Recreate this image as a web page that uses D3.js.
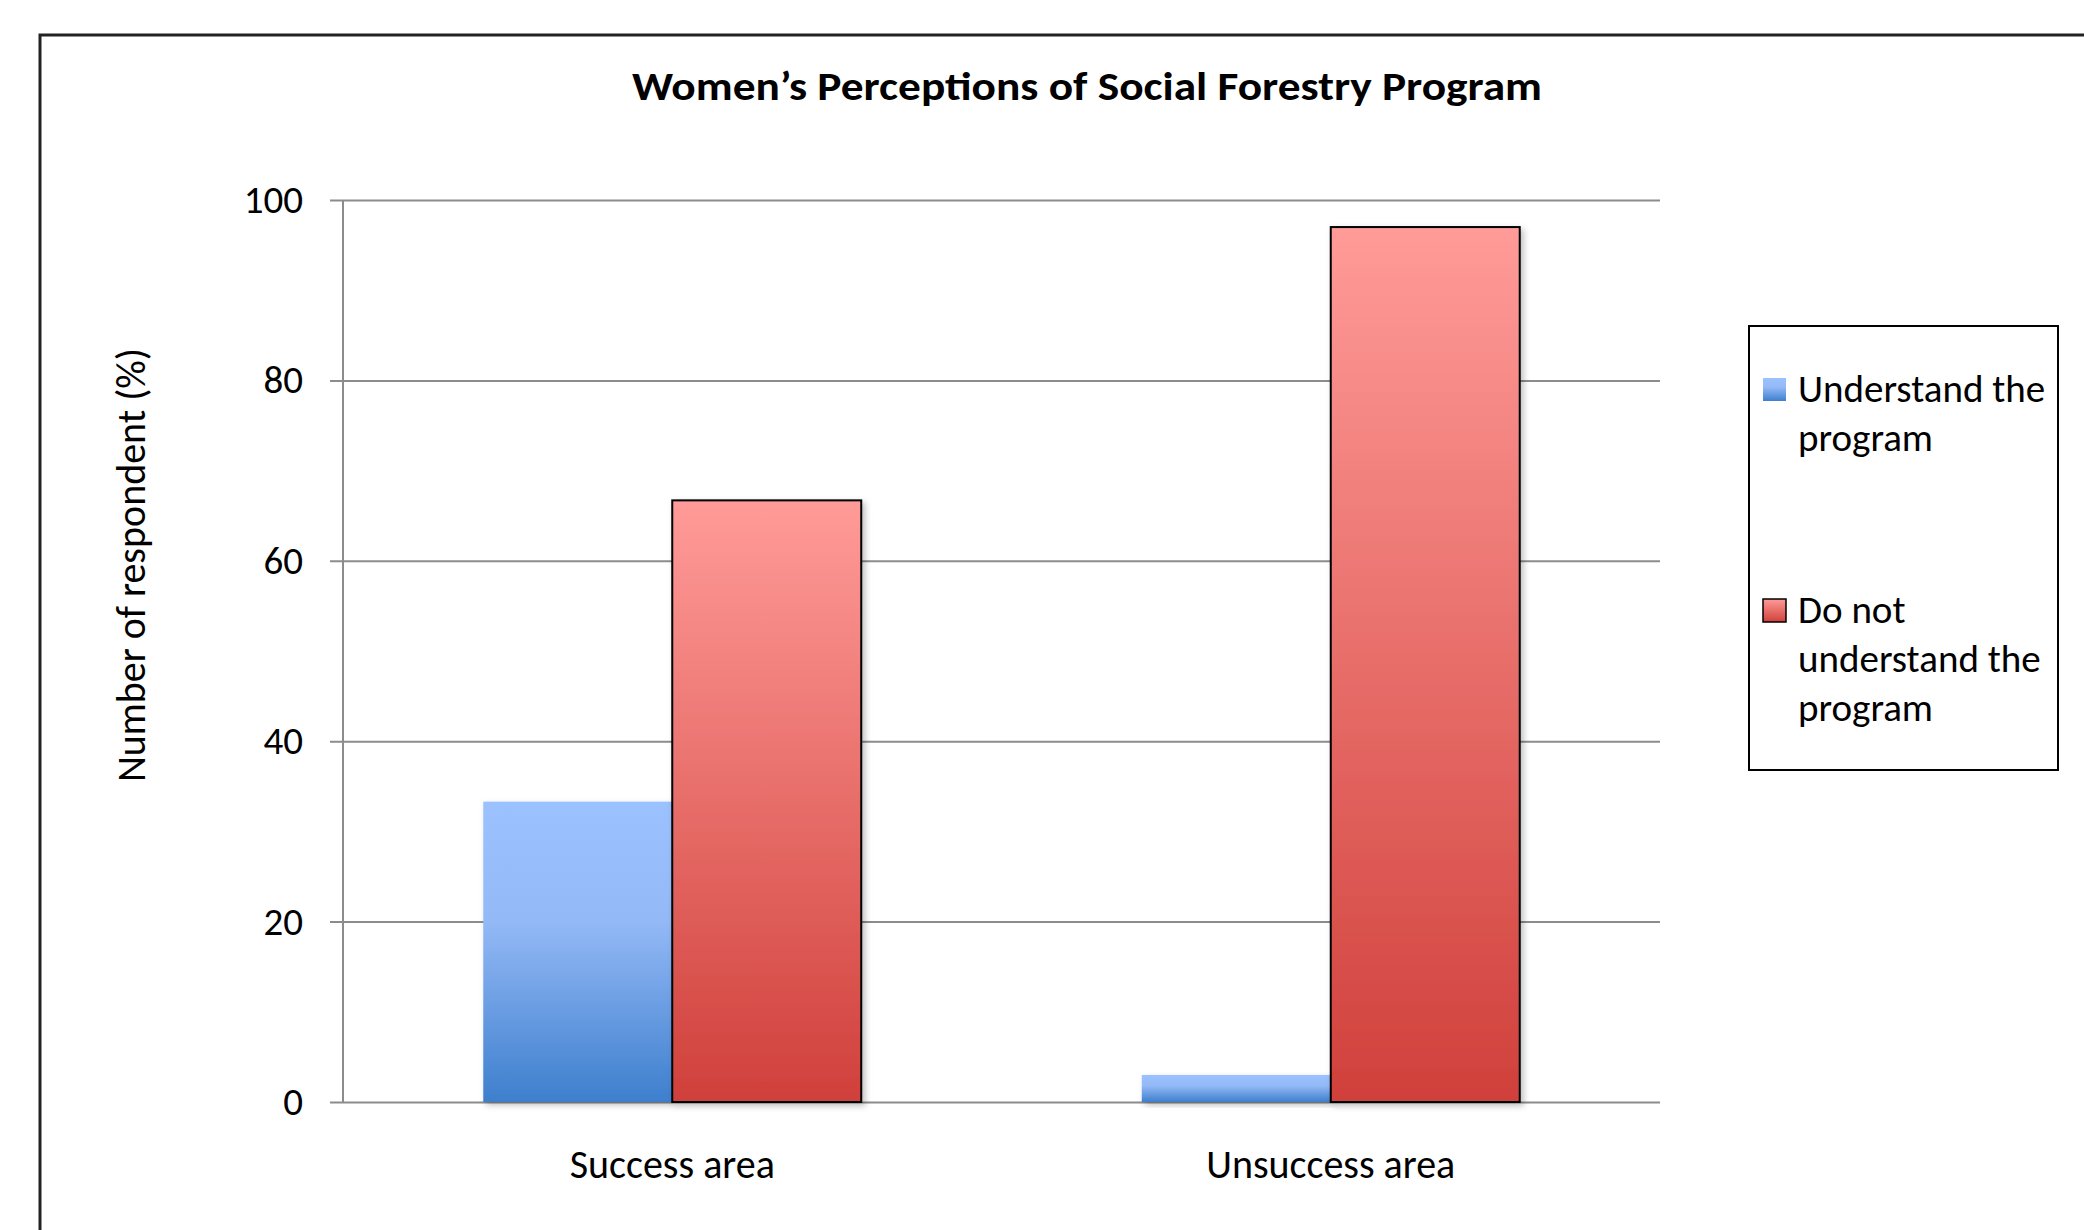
<!DOCTYPE html>
<html>
<head>
<meta charset="utf-8">
<script src="https://cdn.jsdelivr.net/npm/d3@7"></script>
<style>
  body { margin: 0; background: #fff; }
  text { font-family: Carlito, Lato, "Open Sans", sans-serif; fill: #000; }
</style>
</head>
<body>
<div id="chart"></div>
<script>
// data
var categories = ["Success area", "Unsuccess area"];
var series = ["Understand the program", "Do not understand the program"];
var understandValues = [33.3, 3];
var notUnderstandValues = [66.7, 97];
var yTicks = [0, 20, 40, 60, 80, 100];
var legendLines = [["Understand the", "program"], ["Do not", "understand the", "program"]];

var width = 2084, height = 1230;
var plot = {left: 343, right: 1660, top: 200, bottom: 1102};

var svg = d3.select("#chart")
    .append("svg")
    .attr("width", width)
    .attr("height", height);

svg.append("rect").attr("width", width).attr("height", height).attr("fill", "#fff");

// gradients + shadow
var defs = svg.append("defs");
var grads = [
    {id: "gradBlue", stops: [["0%", "#9cc1ff"], ["40%", "#93b9f6"], ["100%", "#3e7fcd"]]},
    {id: "gradRed", stops: [["0%", "#ff9b98"], ["100%", "#d0403b"]]}
];
grads.forEach(function (g) {
    var lg = defs.append("linearGradient").attr("id", g.id)
        .attr("x1", 0).attr("y1", 0).attr("x2", 0).attr("y2", 1);
    g.stops.forEach(function (s) {
        lg.append("stop").attr("offset", s[0]).attr("stop-color", s[1]);
    });
});
defs.append("filter").attr("id", "shadow")
    .attr("x", "-10%").attr("y", "-10%").attr("width", "130%").attr("height", "130%")
    .append("feDropShadow")
    .attr("dx", 3).attr("dy", 3).attr("stdDeviation", 3)
    .attr("flood-color", "#000").attr("flood-opacity", 0.25);

var colors = d3.scaleOrdinal().domain(series).range(["url(#gradBlue)", "url(#gradRed)"]);

// outer frame (cut off at right and bottom)
svg.append("path")
    .attr("d", "M40," + height + "V35H" + width)
    .attr("fill", "none")
    .attr("stroke", "#222")
    .attr("stroke-width", 3);

// title
svg.append("text")
    .attr("x", 1087)
    .attr("y", 100)
    .attr("text-anchor", "middle")
    .attr("textLength", 910)
    .attr("lengthAdjust", "spacingAndGlyphs")
    .style("font-size", "41px")
    .style("font-weight", "bold")
    .text("Women\u2019s Perceptions of Social Forestry Program");

// scales
var y = d3.scaleLinear().domain([0, 100]).range([plot.bottom, plot.top]);
var x0 = d3.scaleBand()
    .domain(categories)
    .range([plot.left, plot.right])
    .paddingInner(0.426)
    .paddingOuter(0.213);
var x1 = d3.scaleBand()
    .domain(series)
    .range([0, x0.bandwidth()]);

// gridlines + tick labels
var yAxis = svg.append("g")
    .attr("transform", "translate(330,0)")
    .call(d3.axisLeft(y).tickValues(yTicks).tickSize(-(plot.right - 330)).tickPadding(27));
yAxis.select(".domain").remove();
yAxis.selectAll(".tick line").attr("stroke", "#8c8c8c").attr("stroke-width", 2);
yAxis.selectAll(".tick text")
    .style("font-size", "39px")
    .attr("fill", "#000");

// vertical axis line
svg.append("line")
    .attr("x1", plot.left).attr("x2", plot.left)
    .attr("y1", plot.top).attr("y2", plot.bottom)
    .attr("stroke", "#8c8c8c")
    .attr("stroke-width", 2);

// y axis title
svg.append("text")
    .attr("transform", "translate(145,565) rotate(-90)")
    .attr("text-anchor", "middle")
    .style("font-size", "40px")
    .text("Number of respondent (%)");

// bars
var rows = categories.map(function (c, i) {
    return {cat: c, vals: [{s: series[0], v: understandValues[i]}, {s: series[1], v: notUnderstandValues[i]}]};
});

var groups = svg.append("g")
    .selectAll("g")
    .data(rows)
    .enter().append("g")
    .attr("transform", function (d) { return "translate(" + x0(d.cat) + ",0)"; });

groups.selectAll("rect")
    .data(function (d) { return d.vals; })
    .enter().append("rect")
    .attr("x", function (d) { return x1(d.s); })
    .attr("y", function (d) { return y(d.v); })
    .attr("width", x1.bandwidth())
    .attr("height", function (d) { return y(0) - y(d.v); })
    .attr("fill", function (d) { return colors(d.s); })
    .attr("stroke", function (d, i) { return i === 1 ? "#000" : "none"; })
    .attr("stroke-width", 2)
    .attr("filter", "url(#shadow)");

// category labels
svg.append("g")
    .selectAll("text")
    .data(categories)
    .enter().append("text")
    .attr("x", function (d) { return x0(d) + x0.bandwidth() / 2; })
    .attr("y", 1178)
    .attr("text-anchor", "middle")
    .style("font-size", "40px")
    .text(function (d) { return d; });

// legend
var legend = svg.append("g").attr("transform", "translate(1749,326)");
legend.append("rect")
    .attr("width", 309)
    .attr("height", 444)
    .attr("fill", "#fff")
    .attr("stroke", "#000")
    .attr("stroke-width", 2);

var legendY = [52, 273];
var items = legend.selectAll(".item")
    .data(series)
    .enter().append("g")
    .attr("class", "item")
    .attr("transform", function (d, i) { return "translate(14," + legendY[i] + ")"; });

items.append("rect")
    .attr("width", 23)
    .attr("height", 23)
    .attr("fill", function (d) { return colors(d); })
    .attr("stroke", function (d, i) { return i === 1 ? "#000" : "none"; })
    .attr("stroke-width", 1.5);

items.each(function (d, i) {
    var t = d3.select(this).append("text")
        .attr("x", 35)
        .attr("y", 24)
        .style("font-size", "39px");
    legendLines[i].forEach(function (line, j) {
        t.append("tspan").attr("x", 35).attr("y", 24 + j * 49).text(line);
    });
});
</script>
</body>
</html>
